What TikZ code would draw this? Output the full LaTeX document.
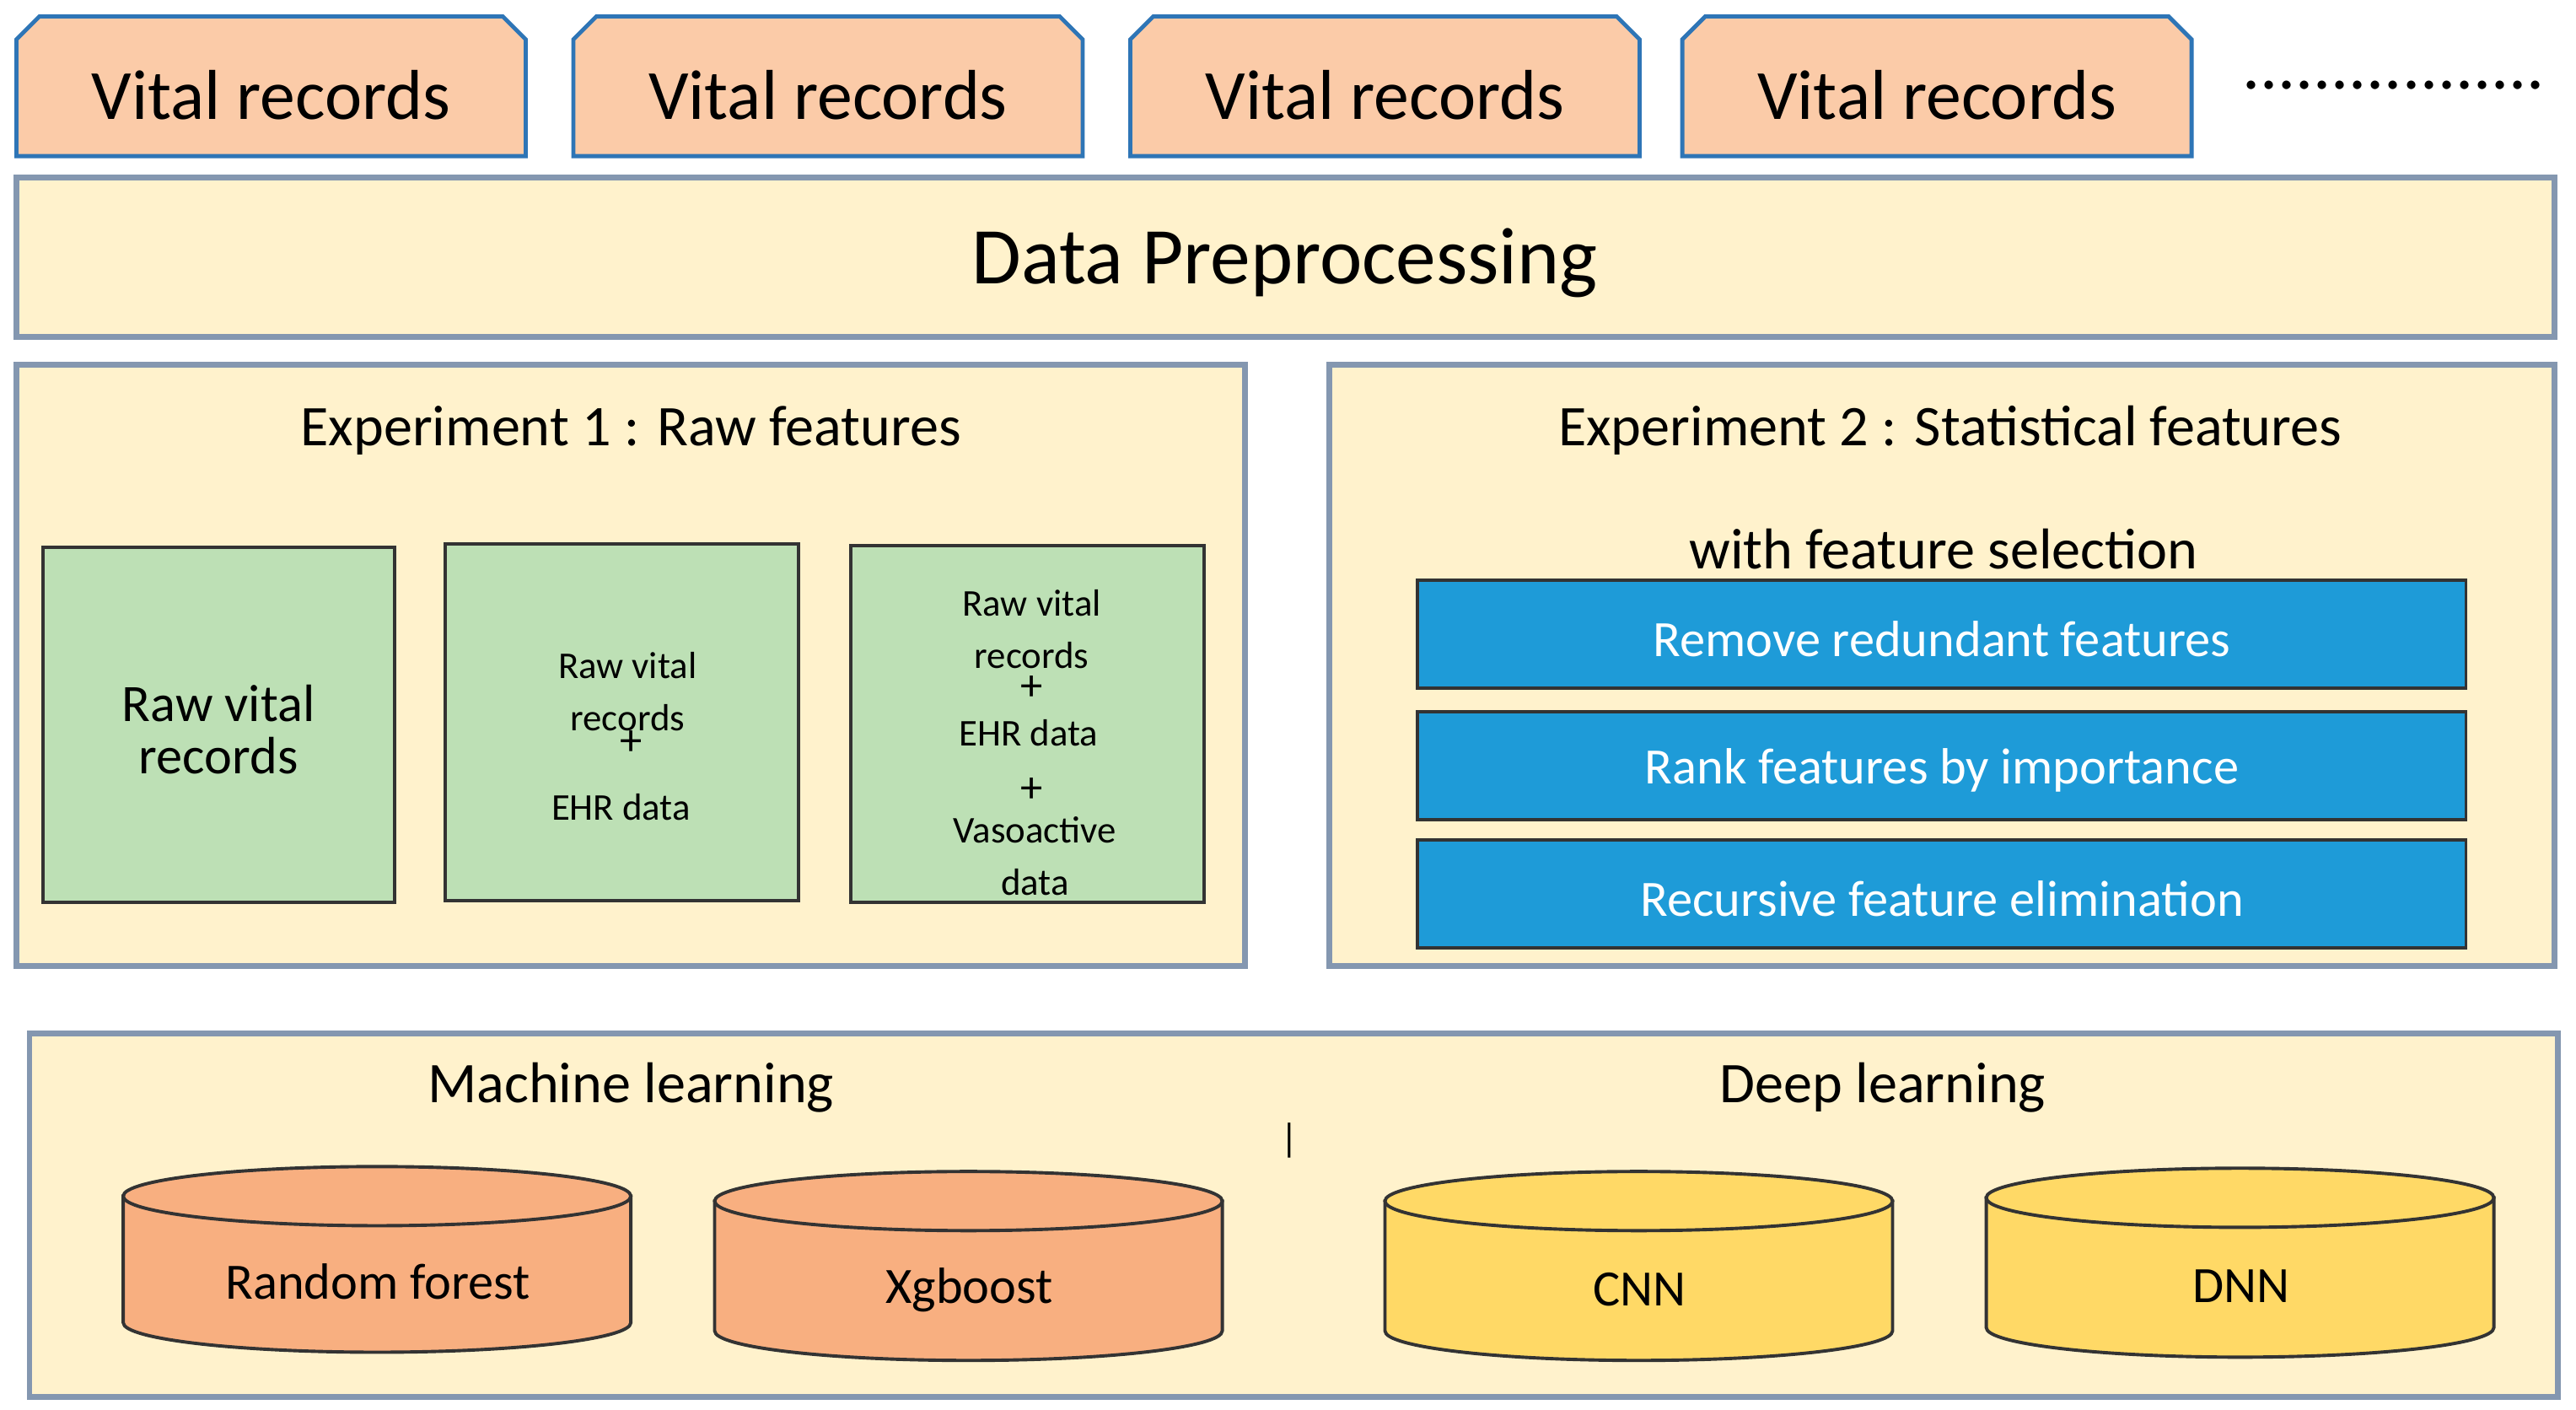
\documentclass[tikz,border=0pt]{standalone}
\usepackage{fontspec}
\setmainfont{Carlito}
\begin{document}
\begin{tikzpicture}[x=1pt,y=-1pt,
 fs/.style={font=\fontsize{#1}{#1}\selectfont},
 vit/.style={fill=peach,draw=vblue,line width=2.5pt},
 panel/.style={fill=cream,draw=pblue,line width=3.5pt},
 grn/.style={fill=green1,draw=black!80,line width=2pt},
 blu/.style={fill=blue1,draw=black!80,line width=2pt},
 cyl/.style={draw=black!80,line width=2pt}]
\definecolor{peach}{HTML}{FBCBA8}
\definecolor{vblue}{HTML}{2E75B6}
\definecolor{cream}{HTML}{FFF2CC}
\definecolor{pblue}{HTML}{8497B0}
\definecolor{green1}{HTML}{BDE0B5}
\definecolor{blue1}{HTML}{1E9BD8}
\definecolor{orng}{HTML}{F8AF80}
\definecolor{yell}{HTML}{FFD966}
\useasboundingbox (0,0) rectangle (1568,858);
% vital records tabs
\foreach \a/\n in {10/v1,349/v2,688/v3,1024/v4}{
 \draw[vit] (\a,95) -- (\a,24) -- (\a+14,10) -- (\a+296,10) -- (\a+310,24) -- (\a+310,95) -- cycle;
 \node[fs=43] (\n) at (\a+155,58) {Vital records};
}
\node[fs=43] (dots) at (1457,52) {.................};
\draw[panel] (10,108) rectangle (1555,205);
\node[fs=49] (dp) at (782,160) {Data Preprocessing};
\draw[panel] (10,222) rectangle (758,588);
\draw[panel] (809,222) rectangle (1555,588);
\node[fs=35] (e1) at (384,262) {Experiment 1 : Raw features};
\node[fs=35] (e2) at (1187,262) {Experiment 2 : Statistical features};
\node[fs=35] (e2b) at (1183,334) {with feature selection};
% green boxes
\draw[grn] (26,333) rectangle (240,549);
\node[fs=32,align=center] (g1) at (133,444) {Raw vital\\records};
\draw[grn] (271,331) rectangle (486,548);
\node[fs=23] at (382,405) {Raw vital};
\node[fs=23] at (382,437) {records};
\node[fs=27] at (384,452) {+};
\node[fs=23] at (378,491) {EHR data};
\draw[grn] (518,332) rectangle (733,549);
\node[fs=23] at (628,367) {Raw vital};
\node[fs=23] at (628,399) {records};
\node[fs=27] at (628,419) {+};
\node[fs=23] at (626,446) {EHR data};
\node[fs=27] at (628,481) {+};
\node[fs=23] at (630,505) {Vasoactive};
\node[fs=23] at (630,537) {data};
% blue boxes
\foreach \t/\c/\n in {353/Remove redundant features/b1,433/Rank features by importance/b2,511/Recursive feature elimination/b3}{
 \draw[blu] (863,\t) rectangle (1501,\t+66);
 \node[fs=31,text=white] (\n) at (1182,\t+36) {\c};
}
% bottom panel
\draw[panel] (18,629) rectangle (1557,850);
\node[fs=35] (ml) at (384,662) {Machine learning};
\node[fs=35] (dl) at (1146,662) {Deep learning};
\node[fs=24] at (785,694) {|};
\foreach \a/\t/\b/\c/\l/\n in {75/728/805/orng/Random forest/c1,435/731/810/orng/Xgboost/c2,843/731/810/yell/CNN/c3,1209/729/808/yell/DNN/c4}{
 \draw[cyl,fill=\c] (\a,\t) -- (\a,\b) arc[start angle=180,end angle=0,x radius=154.5,y radius=18] -- (\a+309,\t) -- cycle;
 \draw[cyl,fill=\c] (\a+154.5,\t) ellipse[x radius=154.5,y radius=18];
 \node[fs=31] (\n) at (\a+155,\b-25) {\l};
}
\end{tikzpicture}
\end{document}
